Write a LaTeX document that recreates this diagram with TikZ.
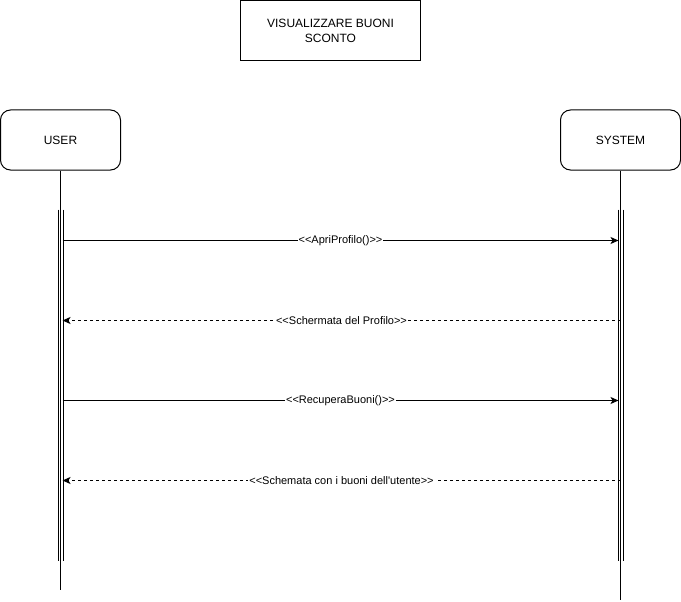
\documentclass[tikz,border=0pt]{standalone}
\usepackage{fontspec}
\setmainfont{Liberation Sans}[Ligatures=TeXOff]
\usetikzlibrary{arrows.meta}
\newcommand{\stin}{\textless\textless}
\newcommand{\stout}{\textgreater\textgreater}
\begin{document}
\begin{tikzpicture}[x=1pt,y=-1pt,line width=1pt,
  actor/.style={draw, rounded corners=10pt, minimum width=120pt, minimum height=60pt, inner sep=0pt, font=\fontsize{12}{15}\selectfont},
  titlebox/.style={draw, minimum width=180pt, minimum height=60pt, inner sep=0pt, align=center, font=\fontsize{12}{15}\selectfont},
  lifeline/.style={line width=1pt},
  actbar/.style={draw=none, minimum width=4pt, minimum height=350pt, inner sep=0pt},
  barline/.style={line width=0.8pt},
  call/.style={-{Stealth[length=8pt,width=7pt,inset=2pt]}},
  reply/.style={call, dash pattern=on 3pt off 3pt},
  msg/.style={fill=white, inner sep=1pt, font=\fontsize{11}{13}\selectfont}]
\useasboundingbox (0,0) rectangle (681,602);

\node[titlebox] (title) at (330.5,30.5) {VISUALIZZARE BUONI\\SCONTO};

\node[actor] (user) at (60.5,140) {USER};
\node[actor] (sys) at (620.5,140) {SYSTEM};

\coordinate (uend) at (60.5,590);
\coordinate (send) at (620.5,600);
\draw[lifeline] (user.south) -- (uend);
\draw[lifeline] (sys.south) -- (send);

\node[actbar] (ubar) at (60.5,385) {};
\node[actbar] (sbar) at (620.5,385) {};
\draw[barline] (ubar.north west) -- (ubar.south west);
\draw[barline] (ubar.north east) -- (ubar.south east);
\draw[barline] (sbar.north west) -- (sbar.south west);
\draw[barline] (sbar.north east) -- (sbar.south east);

\coordinate (u1) at (62.5,240.5);
\coordinate (s1) at (618.5,240.5);
\coordinate (u2) at (62.5,320.5);
\coordinate (s2) at (620.5,320.5);
\coordinate (u3) at (62.5,400.5);
\coordinate (s3) at (618.5,400.5);
\coordinate (u4) at (62.5,480.5);
\coordinate (s4) at (620.5,480.5);

\draw[call] (u1) -- node[msg] (m1) {\stin ApriProfilo()\stout} (s1);
\draw[reply] (s2) -- node[msg] (m2) {\stin Schermata del Profilo\stout} (u2);
\draw[call] (u3) -- node[msg] (m3) {\stin RecuperaBuoni()\stout} (s3);
\draw[reply] (s4) -- node[msg] (m4) {\stin Schemata con i buoni dell'utente\stout} (u4);
\end{tikzpicture}
\end{document}
